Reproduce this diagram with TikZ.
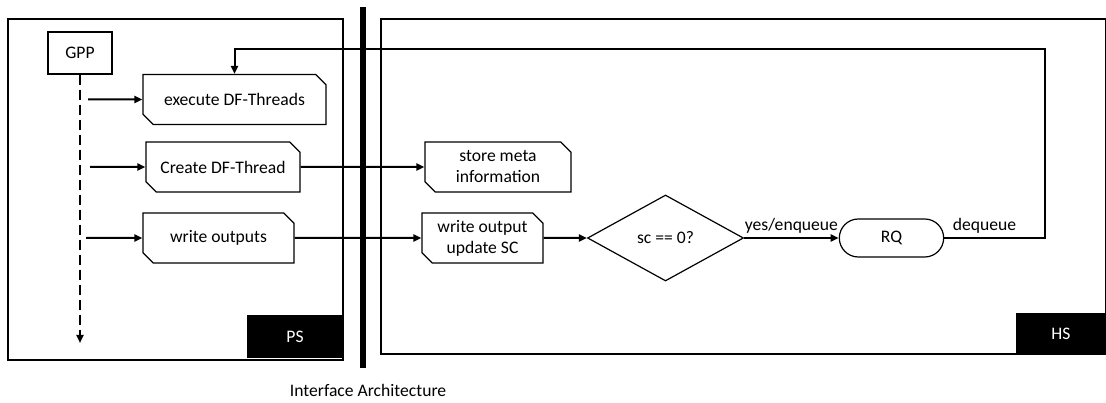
\documentclass[tikz,border=0pt]{standalone}
\usepackage{fontspec}
\setmainfont{Carlito}
\usetikzlibrary{shapes,arrows.meta}
\tikzstyle{block} = [chamfered rectangle, chamfered rectangle corners={north east, south west},
    chamfered rectangle xsep=7pt, draw, line width=1.2pt, align=center, minimum height=50pt, inner sep=2pt]
\tikzstyle{plain} = [rectangle, draw, line width=1.2pt, text centered]
\tikzstyle{test} = [diamond, draw, line width=1.2pt, minimum width=156pt, minimum height=86pt, inner sep=0pt]
\tikzstyle{queue} = [rounded rectangle, draw, line width=1.2pt, minimum width=111pt, minimum height=38pt]
\tikzstyle{tag} = [rectangle, fill=black, text=white, inner sep=0pt]
\tikzstyle{link} = [draw, line width=2pt, -{Triangle[length=8pt,width=7pt]}]

\begin{document}
\begin{tikzpicture}[x=1pt, y=-1pt, font=\fontsize{17.6}{21}\selectfont]
    \useasboundingbox (0,0) rectangle (1106,403);

    % processor side and hardware side
    \draw [line width=1.2pt] (8,19) rectangle (343,360);
    \draw [line width=1.2pt] (381,19) rectangle (1106,354);
    \node (ps) [tag, minimum width=96pt, minimum height=43pt] at (295,336.5) {PS};
    \node (hs) [tag, minimum width=90pt, minimum height=41pt] at (1061,333.5) {HS};
    \draw [line width=6pt] (363,7) -- (363,368);
    \node (ia) at (368,390) {Interface Architecture};

    \node (gpp) [plain, minimum width=64pt, minimum height=42pt] at (80,53) {GPP};
    \node (p1) [block, minimum width=183pt] at (234.5,99.5) {execute DF-Threads};
    \node (p2) [block, minimum width=154pt] at (223,167) {Create DF-Thread};
    \node (p3) [block, minimum width=151pt] at (218.5,238) {write outputs};

    % hardware side
    \node (h1) [block, minimum width=146pt] at (498,167) {store meta\\information};
    \node (h2) [block, minimum width=121pt] at (482.5,238) {write output\\update SC};
    \node (h3) [test] at (665.5,238) {sc == 0?};
    \node (h4) [queue] at (891.5,238) {RQ};

    \coordinate (g0) at (80,343);
    \coordinate (g1) at (88,99.5);
    \coordinate (g2) at (90,167);
    \coordinate (g3) at (86,238);
    \coordinate (back) at (1045,49);

    \draw [link, dashed, line width=2.5pt, dash pattern=on 10pt off 5pt] (gpp) -- (g0);
    \draw [link] (g1) -- (p1);
    \draw [link] (g2) -- (p2);
    \draw [link] (g3) -- (p3);

    \draw [link] (p2) -- (h1);
    \draw [link] (p3) -- (h2);
    \draw [link] (h2) -- (h3);
    \draw [link] (h3) -- node[above] {yes/enqueue} (h4);

    % back to the processor
    \draw [link] (h4) -| node[above, pos=0.2] {dequeue} (back) -| (p1);
\end{tikzpicture}
\end{document}
